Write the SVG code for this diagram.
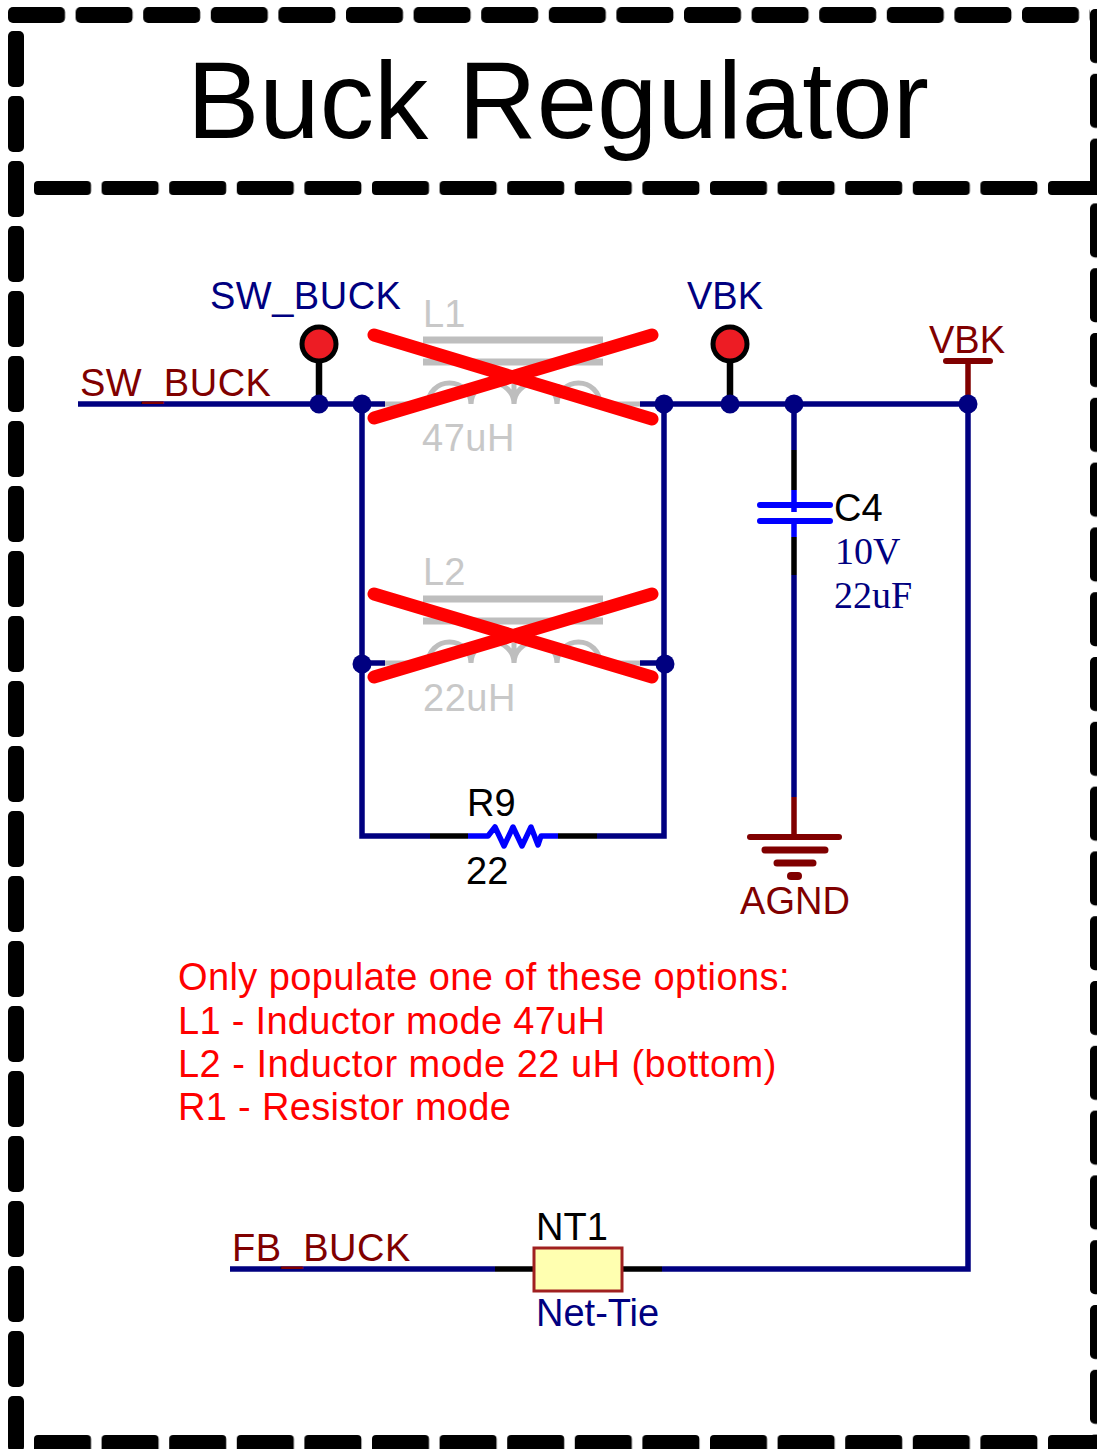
<svg xmlns="http://www.w3.org/2000/svg" width="1097" height="1449" viewBox="0 0 1097 1449">
<defs>
<pattern id="dashTop" patternUnits="userSpaceOnUse" x="8" y="7" width="67.6" height="16"><rect width="57" height="16" rx="5"/></pattern>
<pattern id="dashMid" patternUnits="userSpaceOnUse" x="34" y="181" width="67.6" height="14"><rect width="57" height="14" rx="4"/></pattern>
<pattern id="dashBottom" patternUnits="userSpaceOnUse" x="34" y="1435" width="67.6" height="30"><rect width="57" height="30" rx="4"/></pattern>
<pattern id="dashLeft" patternUnits="userSpaceOnUse" x="8" y="31" width="16" height="65"><rect width="16" height="56" rx="5"/></pattern>
<pattern id="dashRight" patternUnits="userSpaceOnUse" x="1090" y="9" width="30" height="64.8"><rect width="30" height="54" rx="5"/></pattern>
</defs>
<style>
text{font-family:"Liberation Sans",Arial,sans-serif;font-size:38px}
.serif{font-family:"Liberation Serif","Times New Roman",serif;font-size:38px;fill:#000080}
.navy{fill:#000080}.maroon{fill:#800000}.black{fill:#000}.grey{fill:#c8c8c8}.red{fill:#ff0000}
.sp{letter-spacing:.5px}
.w{fill:none;stroke:#000080;stroke-width:5.5}
.k{fill:none;stroke:#000;stroke-width:5.5}
.b{fill:none;stroke:#0000ff;stroke-width:5.5}
.m{fill:none;stroke:#800000;stroke-width:5.5}
.g{fill:none;stroke:#bebebe;stroke-width:5}
.x{fill:none;stroke:#ff0000;stroke-width:13;stroke-linecap:round}
.d{fill:#000080}
.tp{fill:#ed1c24;stroke:#000;stroke-width:5}
</style>
<rect width="1097" height="1449" fill="#fff"/>
<g id="frame">
<rect x="8" y="7" width="1082" height="16" fill="url(#dashTop)"/>
<rect x="8" y="31" width="16" height="1418" fill="url(#dashLeft)"/>
<rect x="34" y="181" width="1063" height="14" fill="url(#dashMid)"/>
<rect x="1090" y="9" width="7" height="1440" fill="url(#dashRight)"/>
<rect x="34" y="1435" width="1063" height="14" fill="url(#dashBottom)"/>
</g>
<text id="title" x="187" y="138" style="font-size:108.500px" class="black">Buck Regulator</text>
<g id="connectors">
<path class="w" d="M78 404H385M640 404H968V1269H662M362 404V836H430M664 404V836H597M362 663H385M640 663H664M794 404V450M794 575V797M230 1269H495"/>
<path class="k" d="M430 836H468M558 836H597M794 450V490M794 537V575M495 1269H534M622 1269H662"/>
<path class="k" style="stroke-width:6.500" d="M319 360V404M730 360V404"/>
</g>
<g id="L1">
<text class="grey" x="423" y="327">L1</text>
<path class="g" style="stroke-width:7" d="M423 340H603M423 362H603"/>
<path class="g" d="M385 404H428A21.500 21 0 0 1 471 404V384M471 404A21.500 21 0 0 1 514 404V384M514 404A21.500 21 0 0 1 557 404V384M557 404A21.500 21 0 0 1 600 404H640"/>
<text class="grey sp" x="422" y="451">47uH</text>
<path class="x" d="M374 335L652 419M374 418L652 335"/>
</g>
<g id="L2">
<text class="grey" x="423" y="585">L2</text>
<path class="g" style="stroke-width:7" d="M423 599H603M423 621H603"/>
<path class="g" d="M385 663H428A21.500 21 0 0 1 471 663V643M471 663A21.500 21 0 0 1 514 663V643M514 663A21.500 21 0 0 1 557 663V643M557 663A21.500 21 0 0 1 600 663H640"/>
<text class="grey sp" x="423" y="711">22uH</text>
<path class="x" d="M374 594L652 677M374 677L652 594"/>
</g>
<g id="R9">
<text class="black" x="467" y="816">R9</text>
<path class="b" stroke-linejoin="round" d="M468 836H488L495 827L504 846L513 827L522 846L531 827L538 845L541 836H558"/>
<text class="black" x="466" y="884">22</text>
</g>
<g id="C4">
<path class="b" d="M794 490V512M794 522V537"/>
<path class="b" style="stroke-width:6" stroke-linecap="round" d="M760 505H830M760 521H830"/>
<text class="black" x="834" y="521">C4</text>
<text class="serif" x="835" y="564">10V</text>
<text class="serif" x="834" y="608">22uF</text>
</g>
<g id="AGND">
<path class="m" d="M794 797V836"/>
<path class="m" style="stroke-width:6" stroke-linecap="round" d="M750 837H839"/>
<path class="m" style="stroke-width:7" stroke-linecap="round" d="M765 850H825M777 863H813"/>
<path class="m" style="stroke-width:8" stroke-linecap="round" d="M791 876H798"/>
<text class="maroon" x="795" y="914" text-anchor="middle">AGND</text>
</g>
<g id="TP_SW_BUCK">
<circle class="tp" cx="319" cy="344" r="17"/>
<text class="navy sp" x="210" y="309">SW_BUCK</text>
</g>
<g id="TP_VBK">
<circle class="tp" cx="730" cy="344" r="17"/>
<text class="navy" x="687" y="309">VBK</text>
</g>
<g id="port_VBK">
<path class="m" d="M968 361V404"/>
<path class="m" style="stroke-width:6" stroke-linecap="round" d="M946 361H990"/>
<text class="maroon" x="929" y="353">VBK</text>
</g>
<g id="junctions">
<circle class="d" cx="319" cy="404" r="9.500"/>
<circle class="d" cx="362" cy="404" r="9.500"/>
<circle class="d" cx="664" cy="404" r="9.500"/>
<circle class="d" cx="730" cy="404" r="9.500"/>
<circle class="d" cx="794" cy="404" r="9.500"/>
<circle class="d" cx="968" cy="404" r="9.500"/>
<circle class="d" cx="362" cy="664" r="9.500"/>
<circle class="d" cx="665" cy="664" r="9.500"/>
</g>
<g id="net_labels">
<text class="maroon sp" x="80" y="396">SW_BUCK</text>
<text class="maroon sp" x="232" y="1261">FB_BUCK</text>
</g>
<g id="note">
<text class="red" style="letter-spacing:.4px" x="178" y="990">Only populate one of these options:</text>
<text class="red" style="letter-spacing:.3px" x="178" y="1034">L1 - Inductor mode 47uH</text>
<text class="red" style="letter-spacing:.48px" x="178" y="1077">L2 - Inductor mode 22 uH (bottom)</text>
<text class="red" style="letter-spacing:.33px" x="178" y="1120">R1 - Resistor mode</text>
</g>
<g id="NT1">
<text class="black" x="536" y="1240">NT1</text>
<rect x="534" y="1248" width="88" height="43" fill="#ffffb0" stroke="#a02020" stroke-width="3"/>
<text class="navy" x="536" y="1326">Net-Tie</text>
</g>
</svg>
